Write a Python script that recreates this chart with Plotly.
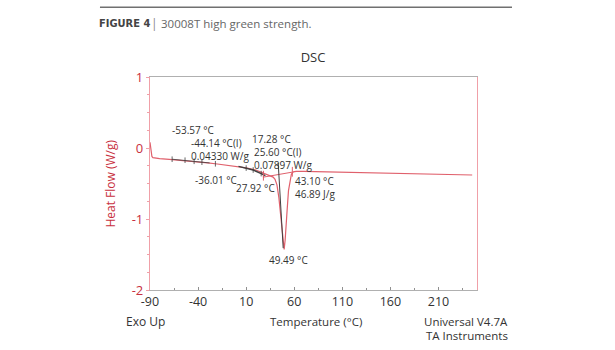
import plotly.graph_objects as go

# DSC heat-flow curve (temperature in °C, heat flow in W/g)
temperature = [-90, -89.5, -89, -88, -87, -85, -80, -70, -60, -50, -40, -30, -20, -10, 0,
               10, 20, 25, 30, 35, 38, 40, 42, 44, 45.5, 47, 48.5, 49.49, 50.5, 51.6,
               52.7, 54, 55.5, 57, 59, 62, 70, 90, 120, 150, 180, 210, 245]
heat_flow = [0.08, 0.02, -0.06, -0.12, -0.135, -0.14, -0.15, -0.16, -0.17, -0.18, -0.195,
             -0.21, -0.225, -0.24, -0.255, -0.28, -0.31, -0.34, -0.37, -0.39, -0.41, -0.44,
             -0.52, -0.7, -0.88, -1.08, -1.3, -1.43, -1.3, -1.12, -0.85, -0.6, -0.45, -0.37,
             -0.335, -0.33, -0.33, -0.335, -0.345, -0.355, -0.362, -0.37, -0.38]

# glass-transition tangent construction (black)
tg1_t = [-67, -53.57, -44.14, -36.01, -28]
tg1_hf = [-0.158, -0.172, -0.187, -0.2, -0.21]
tg2_t = [2, 10, 17.28, 25.6, 30]
tg2_hf = [-0.258, -0.283, -0.31, -0.36, -0.39]
tick_t = [-67, -53.57, -44.14, -36.01, -22, 10, 17.28, 25.6, 27.92]
tick_hf = [-0.158, -0.172, -0.187, -0.2, -0.222, -0.283, -0.31, -0.36, -0.375]

# melting peak: onset tangent and integration baseline
onset_t = [43.3, 48.5]
onset_hf = [-0.21, -1.41]
base_t = [27.92, 58]
base_hf = [-0.41, -0.34]
lim_t = [27.92, 58]
lim_hf = [-0.39, -0.335]

# analysis labels: (text, temperature, heat flow) at the label's left edge
labels = [
    ("-53.57 °C", -69.5, 0.25),
    ("-44.14 °C(I)<br>0.04330 W/g", -49.5, -0.025),
    ("-36.01 °C", -45.5, -0.45),
    ("17.28 °C", 14, 0.125),
    ("25.60 °C(I)<br>0.07897 W/g", 16, -0.15),
    ("27.92 °C", -3, -0.56),
    ("43.10 °C<br>46.89 J/g", 59, -0.555),
    ("49.49 °C", 32, -1.58),
]

x_ticks = [-90, -40, 10, 60, 110, 160, 210]
y_ticks = [1, 0, -1, -2]

RED = "#e0606c"
AXRED = "#f0a0a8"
TXT = "#333333"
FONT = "Open Sans"

fig = go.Figure()
fig.add_trace(go.Scatter(x=temperature, y=heat_flow, mode="lines",
                         line=dict(color=RED, width=1.2), hoverinfo="skip"))
fig.add_trace(go.Scatter(x=base_t, y=base_hf, mode="lines",
                         line=dict(color=RED, width=1), hoverinfo="skip"))
fig.add_trace(go.Scatter(x=tg1_t, y=tg1_hf, mode="lines",
                         line=dict(color="#404040", width=0.8), hoverinfo="skip"))
fig.add_trace(go.Scatter(x=tg2_t, y=tg2_hf, mode="lines",
                         line=dict(color="#404040", width=1.4), hoverinfo="skip"))
fig.add_trace(go.Scatter(x=onset_t, y=onset_hf, mode="lines",
                         line=dict(color="#404040", width=1), hoverinfo="skip"))
fig.add_trace(go.Scatter(x=tick_t, y=tick_hf, mode="markers",
                         marker=dict(symbol="line-ns", size=4,
                                     line=dict(color="#404040", width=0.8)),
                         hoverinfo="skip"))
fig.add_trace(go.Scatter(x=lim_t, y=lim_hf, mode="markers",
                         marker=dict(symbol="line-ns", size=7,
                                     line=dict(color=RED, width=1)),
                         hoverinfo="skip"))

for text, t, hf in labels:
    fig.add_annotation(x=t, y=hf, text=text, showarrow=False, xanchor="left",
                       yanchor="middle", align="left",
                       font=dict(family=FONT, size=10, color=TXT))

# page header
fig.add_shape(type="line", xref="paper", yref="paper",
              x0=-0.153, x1=1.107, y0=1.327, y1=1.327,
              line=dict(color="#707070", width=1.5))
fig.add_annotation(xref="paper", yref="paper", x=-0.162, y=1.249,
                   text="<b>FIGURE 4</b>", showarrow=False, xanchor="left",
                   yanchor="middle",
                   font=dict(family="DejaVu Sans Condensed", size=11, color="#444444"))
fig.add_annotation(xref="paper", yref="paper", x=0.013, y=1.249,
                   text="|", showarrow=False, xanchor="center", yanchor="middle",
                   font=dict(family=FONT, size=12, color="#888888"))
fig.add_annotation(xref="paper", yref="paper", x=0.026, y=1.249,
                   text="30008T high green strength.", showarrow=False,
                   xanchor="left", yanchor="middle",
                   font=dict(family=FONT, size=11.5, color="#666666"))

# axis captions
fig.add_annotation(xref="paper", yref="paper", x=-0.122, y=0.5,
                   text="Heat Flow (W/g)", textangle=-90, showarrow=False,
                   xanchor="center", yanchor="middle",
                   font=dict(family=FONT, size=12, color="#c8303e"))
fig.add_annotation(xref="paper", yref="paper", x=-0.079, y=-0.148,
                   text="Exo Up", showarrow=False, xanchor="left", yanchor="middle",
                   font=dict(family=FONT, size=12, color=TXT))
fig.add_annotation(xref="paper", yref="paper", x=0.509, y=-0.148,
                   text="Temperature (°C)", showarrow=False, yanchor="middle",
                   font=dict(family=FONT, size=11.5, color=TXT))
fig.add_annotation(xref="paper", yref="paper", x=1.1, y=-0.148,
                   text="Universal V4.7A", showarrow=False, yanchor="middle",
                   font=dict(family=FONT, size=11.5, color=TXT))
fig.add_annotation(xref="paper", yref="paper", x=1.1, y=-0.214,
                   text="TA Instruments", showarrow=False, yanchor="middle",
                   font=dict(family=FONT, size=11.5, color=TXT))

fig.update_layout(
    width=615, height=350,
    margin=dict(l=150, r=138, t=77, b=60),
    paper_bgcolor="white", plot_bgcolor="white",
    showlegend=False,
    title=dict(text="DSC", x=0.509, xanchor="center", y=0.837, yanchor="middle",
               font=dict(family=FONT, size=13, color=TXT)),
    xaxis=dict(range=[-90, 250], tickvals=x_ticks, ticktext=[str(v) for v in x_ticks],
               showgrid=False, zeroline=False, showline=True, linecolor="#b0b0b0",
               linewidth=1.2, mirror=True, ticks="inside", ticklen=3,
               tickcolor="#909090",
               minor=dict(dtick=25, tick0=-90, ticks="inside", ticklen=2,
                          tickcolor="#909090"),
               tickfont=dict(family=FONT, size=12.5, color=TXT)),
    yaxis=dict(range=[-2, 1], tickvals=y_ticks, ticktext=[str(v) for v in y_ticks],
               showgrid=False, zeroline=False, showline=True, linecolor=AXRED,
               linewidth=1.2, mirror=True, ticks="outside", ticklen=3,
               tickcolor=AXRED,
               minor=dict(dtick=0.25, tick0=0, ticks="outside", ticklen=2,
                          tickcolor=AXRED),
               tickfont=dict(family=FONT, size=13, color="#c8303e")),
)

fig.write_html("out.html")
